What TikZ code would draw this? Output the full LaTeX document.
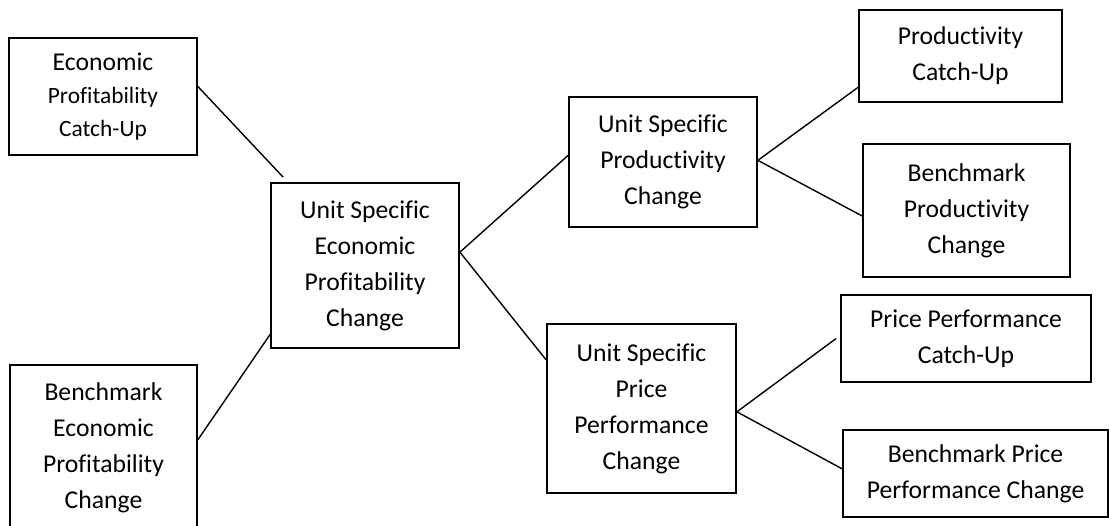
\documentclass[tikz,border=0pt]{standalone}
\usepackage{fontspec}
\setmainfont[Ligatures=NoCommon]{Carlito}
\usetikzlibrary{positioning}

\begin{document}
\begin{tikzpicture}[
    box/.style={draw, line width=1pt, align=center, inner sep=0pt,
                font=\fontsize{14.6}{20.5}\selectfont},
    link/.style={line width=0.8pt}]

\clip (0,0) rectangle (22.18,10.5);

% Left column
\node[box, minimum width=3.76cm, minimum height=2.34cm,
      font=\fontsize{13.3}{18.7}\selectfont] (EPCU) at (2.06,8.57)
      {{\fontsize{14.6}{18.7}\selectfont Economic}\\ Profitability\\ Catch-Up};
\node[box, minimum width=3.74cm, minimum height=3.32cm] (BEPC) at (2.07,1.54)
      {Benchmark\\ Economic\\ Profitability\\ Change};

% Middle
\node[box, minimum width=3.76cm, minimum height=3.30cm] (USEPC) at (7.30,5.19)
      {Unit Specific\\ Economic\\ Profitability\\ Change};

% Unit specific parts
\node[box, minimum width=3.76cm, minimum height=2.60cm] (USPC) at (13.26,7.26)
      {Unit Specific\\ Productivity\\ Change};
\node[box, minimum width=3.78cm, minimum height=3.38cm] (USPPC) at (12.83,2.33)
      {Unit Specific\\ Price\\ Performance\\ Change};

% Right column
\node[box, minimum width=4.06cm, minimum height=1.84cm] (PCU) at (19.21,9.38)
      {Productivity\\ Catch-Up};
\node[box, minimum width=4.14cm, minimum height=2.66cm] (BPC) at (19.33,6.29)
      {Benchmark\\ Productivity\\ Change};
\node[box, minimum width=5.00cm, minimum height=1.74cm] (PPCU) at (19.32,3.73)
      {Price Performance\\ Catch-Up};
\node[box, minimum width=5.30cm, minimum height=1.74cm] (BPPC) at (19.51,1.03)
      {Benchmark Price\\ Performance Change};

% Connectors
\draw[link] (EPCU.6) -- ([xshift=0.26cm, yshift=0.1cm]USEPC.north west);
\draw[link] (USEPC.216) -- (BEPC.5);
\draw[link] (USEPC.8) -- (USPC.176);
\draw[link] (USEPC.8) -- (USPPC.153);
\draw[link] (USPC.1) -- (PCU.197);
\draw[link] (USPC.1) -- (BPC.183);
\draw[link] (USPPC.358) -- ([xshift=-0.08cm]PPCU.west);
\draw[link] (USPPC.358) -- (BPPC.178);

\end{tikzpicture}
\end{document}
